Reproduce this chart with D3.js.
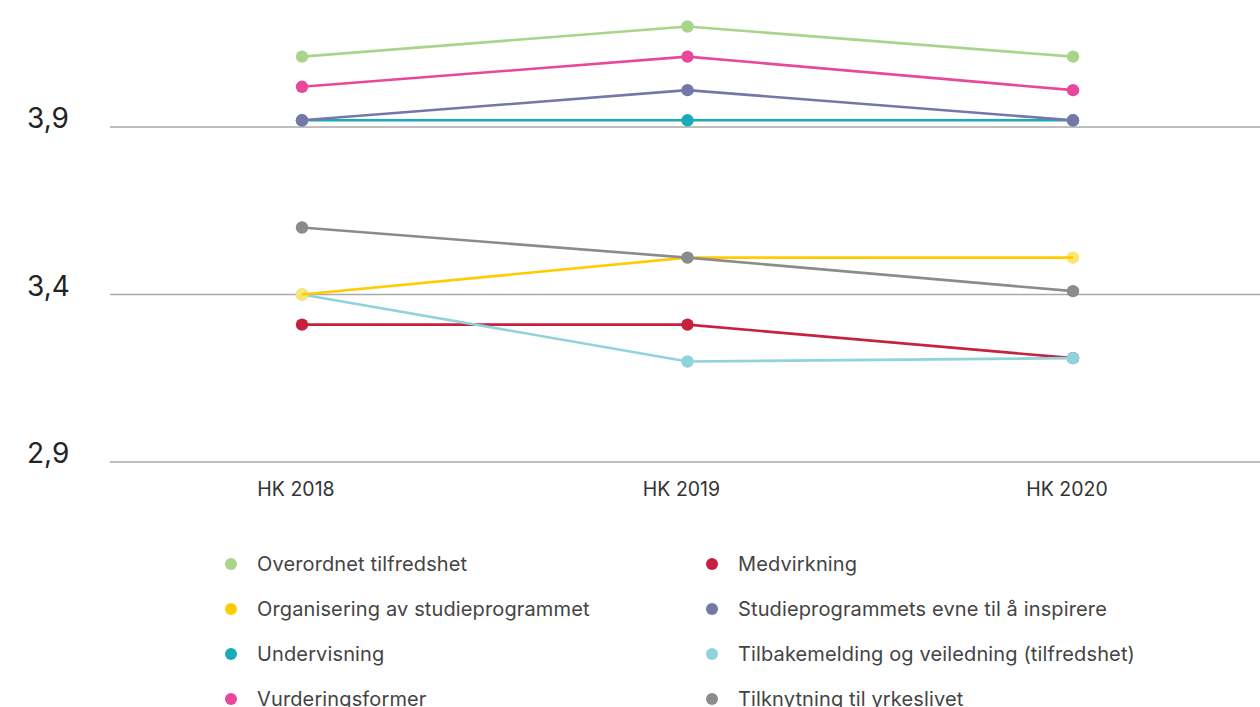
<!DOCTYPE html>
<html>
<head>
<meta charset="utf-8">
<script src="https://cdn.jsdelivr.net/npm/d3@7"></script>
<style>
  body { margin: 0; background: #fff; }
  svg { display: block; }
  text { font-family: Inter, "Liberation Sans", sans-serif; }
</style>
</head>
<body>
<svg></svg>
<script>
var width = 1260,
	height = 707;

// data
var years = ["HK 2018", "HK 2019", "HK 2020"];
var yTicks = [2.9, 3.4, 3.9];

var overordnet    = [4.11, 4.20, 4.11];
var organisering  = [3.40, 3.51, 3.51];
var undervisning  = [3.92, 3.92, 3.92];
var vurdering     = [4.02, 4.11, 4.01];
var medvirkning   = [3.31, 3.31, 3.21];
var inspirere     = [3.92, 4.01, 3.92];
var tilbakemelding = [3.40, 3.20, 3.21];
var tilknytning   = [3.60, 3.51, 3.41];

var series = [
	{name: "Overordnet tilfredshet", values: overordnet, color: "#a8d58a", dot: "#a8d58a"},
	{name: "Organisering av studieprogrammet", values: organisering, color: "#ffcc00", dot: "#fbe670"},
	{name: "Undervisning", values: undervisning, color: "#1aabb9", dot: "#1aabb9"},
	{name: "Vurderingsformer", values: vurdering, color: "#e9489a", dot: "#e9489a"},
	{name: "Medvirkning", values: medvirkning, color: "#c8203f", dot: "#c8203f"},
	{name: "Studieprogrammets evne til å inspirere", values: inspirere, color: "#7477a7", dot: "#7477a7"},
	{name: "Tilbakemelding og veiledning (tilfredshet)", values: tilbakemelding, color: "#90d3da", dot: "#90d3da"},
	{name: "Tilknytning til yrkeslivet", values: tilknytning, color: "#8a8b8d", dot: "#8a8b8d"}
];

// stacking order of the marks (index into series)
var drawOrder = [0, 2, 5, 3, 4, 6, 1, 7];

var svg = d3.select("svg")
			.attr("width", width)
			.attr("height", height);

var x = d3.scalePoint()
		.domain(years)
		.range([302, 1073]);

var y = d3.scaleLinear()
		.domain([2.9, 3.9])
		.range([462, 127]);

// gridlines
svg.append("g")
	.selectAll("line")
	.data(yTicks)
	.enter()
	.append("line")
	.attr("x1", 110)
	.attr("x2", width)
	.attr("y1", function(d) { return y(d); })
	.attr("y2", function(d) { return y(d); })
	.attr("stroke", "#a9a9a9")
	.attr("stroke-width", 1.5);

svg.append("g")
	.selectAll("text")
	.data(yTicks)
	.enter()
	.append("text")
	.attr("x", 27)
	.attr("y", function(d) { return y(d) + 1; })
	.attr("font-size", 28)
	.attr("fill", "#222")
	.text(function(d) { return d3.format(".1f")(d).replace(".", ","); });

// x labels
svg.append("g")
	.selectAll("text")
	.data(years)
	.enter()
	.append("text")
	.attr("x", function(d) { return x(d) - 6; })
	.attr("y", 496)
	.attr("text-anchor", "middle")
	.attr("font-size", 19.5)
	.attr("fill", "#333")
	.text(function(d) { return d; });

var line = d3.line()
		.x(function(d, i) { return x(years[i]); })
		.y(function(d) { return y(d); });

drawOrder.forEach(function(k) {
	var s = series[k];
	var g = svg.append("g");
	var path = g.append("path")
		.attr("d", line(s.values))
		.attr("fill", "none")
		.attr("stroke", s.color)
		.attr("stroke-width", 2.6);
	g.selectAll("circle")
		.data(s.values)
		.enter()
		.append("circle")
		.attr("cx", function(d, i) { return x(years[i]); })
		.attr("cy", function(d) { return y(d); })
		.attr("r", 6.2)
		.attr("fill", s.dot);
	// yellow line sits above its own lighter dots
	if (k == 1) path.raise();
});

// legend
var legend = svg.append("g")
	.selectAll("g")
	.data(series)
	.enter()
	.append("g")
	.attr("transform", function(d, i) {
		var col = Math.floor(i / 4), row = i % 4;
		return "translate(" + (col ? 712 : 231) + "," + (564 + row * 45) + ")";
	});

legend.append("circle")
	.attr("r", 6)
	.attr("fill", function(d) { return d.color; });

legend.append("text")
	.attr("x", 26)
	.attr("y", 6.5)
	.attr("font-size", 20)
	.attr("letter-spacing", 0.13)
	.attr("fill", "#444")
	.text(function(d) { return d.name; });
</script>
</body>
</html>
